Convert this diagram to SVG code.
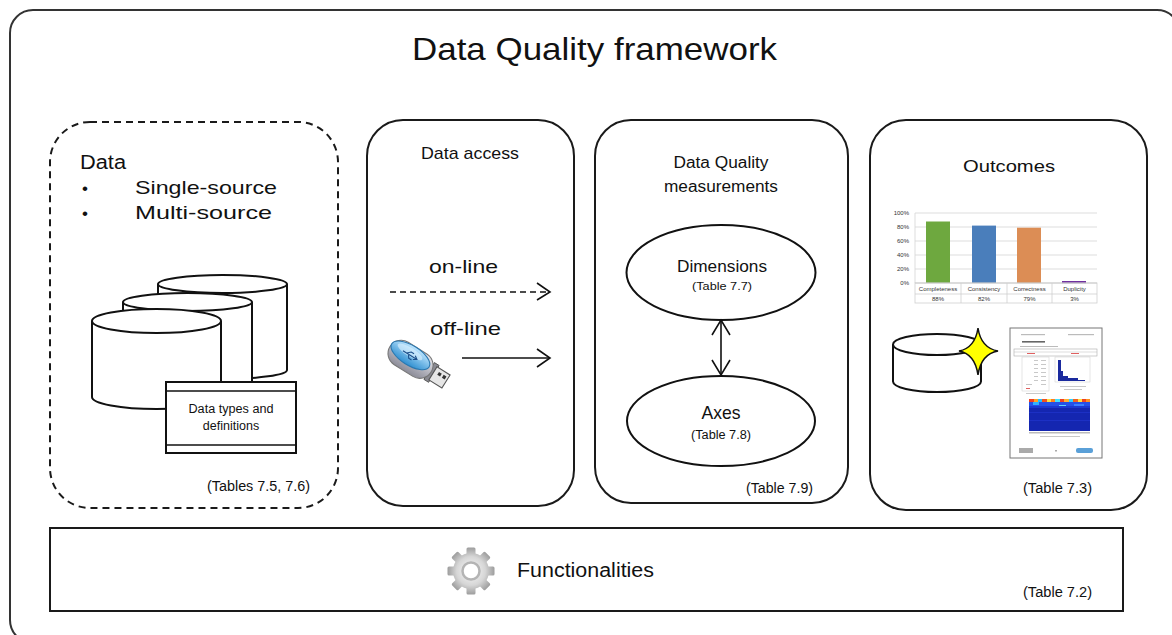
<svg xmlns="http://www.w3.org/2000/svg" width="1172" height="635" viewBox="0 0 1172 635">
  <style>
    .frame { fill: #fff; stroke: #333; stroke-width: 2; }
    .box { fill: #fff; stroke: #1a1a1a; stroke-width: 2; }
    .dash { fill: #fff; stroke: #1a1a1a; stroke-width: 2; stroke-dasharray: 7 5; }
    .shape { fill: #fff; stroke: #111; stroke-width: 2; }
    .line { fill: none; stroke: #111; stroke-width: 1.6; }
    .t { font-family: "Liberation Sans", Arial, sans-serif; fill: #111; }
    .sm { font-family: "Liberation Sans", Arial, sans-serif; fill: #333; }
    .grid { stroke: #d4d4d4; stroke-width: 0.8; }
    .cell { fill: none; stroke: #cfcfcf; stroke-width: 0.8; }
    .tiny { fill: #bbb; }
  </style>
  <defs>
    <radialGradient id="gearGrad" gradientUnits="userSpaceOnUse" cx="0" cy="0" r="24">
      <stop offset="0" stop-color="#fafafa"/>
      <stop offset="0.6" stop-color="#d6d6d6"/>
      <stop offset="1" stop-color="#9a9a9a"/>
    </radialGradient>
    <linearGradient id="usbGray" x1="0" y1="0" x2="0" y2="1">
      <stop offset="0" stop-color="#e8e8ee"/>
      <stop offset="1" stop-color="#8c8c98"/>
    </linearGradient>
    <linearGradient id="usbBlue" x1="0" y1="0" x2="0" y2="1">
      <stop offset="0" stop-color="#bfe6ff"/>
      <stop offset="1" stop-color="#2f8fd0"/>
    </linearGradient>
    <rect id="tooth" x="-4.5" y="-23.5" width="9" height="10" rx="1.5"/>
  </defs>

  <!-- outer frame and title -->
  <rect class="frame" x="10" y="10" width="1170" height="633" rx="23"/>
  <text class="t" x="412" y="60" font-size="32" textLength="365" lengthAdjust="spacingAndGlyphs">Data Quality framework</text>

  <!-- Data -->
  <g id="node-data">
    <rect class="dash" x="50" y="122" width="288" height="386" rx="40"/>
    <text class="t" x="80" y="169" font-size="20" textLength="46" lengthAdjust="spacingAndGlyphs">Data</text>
    <text class="t" x="82" y="194" font-size="17">•</text>
    <text class="t" x="82" y="219" font-size="17">•</text>
    <text class="t" x="135" y="194" font-size="18.5" textLength="142" lengthAdjust="spacingAndGlyphs">Single-source</text>
    <text class="t" x="135" y="219" font-size="18.5" textLength="137" lengthAdjust="spacingAndGlyphs">Multi-source</text>
    <!-- stacked databases -->
    <path class="shape" d="M158,284 V370 A64.5,9 0 0 0 287,370 V284"/>
    <ellipse class="shape" cx="222.5" cy="284" rx="64.5" ry="9"/>
    <path class="shape" d="M123,302 V386 A64.5,9 0 0 0 252,386 V302"/>
    <ellipse class="shape" cx="187.5" cy="302" rx="64.5" ry="9"/>
    <path class="shape" d="M92,321 V397 A64.5,12 0 0 0 221,397 V321"/>
    <ellipse class="shape" cx="156.5" cy="321" rx="64.5" ry="12"/>
    <!-- data dictionary -->
    <rect class="shape" x="166" y="382" width="130" height="71"/>
    <line class="line" x1="166" y1="391" x2="296" y2="391"/>
    <line class="line" x1="166" y1="445" x2="296" y2="445"/>
    <text class="t" x="231" y="413" font-size="12.5" text-anchor="middle" textLength="85" lengthAdjust="spacingAndGlyphs">Data types and</text>
    <text class="t" x="231" y="430" font-size="12.5" text-anchor="middle">definitions</text>
    <text class="t" x="207" y="491" font-size="14" textLength="103" lengthAdjust="spacingAndGlyphs">(Tables 7.5, 7.6)</text>
  </g>

  <!-- Data access -->
  <g id="node-access">
    <rect class="box" x="367" y="120" width="207" height="386" rx="36"/>
    <text class="t" x="421" y="159" font-size="17" textLength="98" lengthAdjust="spacingAndGlyphs">Data access</text>
    <text class="t" x="429" y="273" font-size="19" textLength="69" lengthAdjust="spacingAndGlyphs">on-line</text>
    <text class="t" x="430" y="335" font-size="19" textLength="71" lengthAdjust="spacingAndGlyphs">off-line</text>
    <!-- USB stick -->
    <g transform="translate(418,364) rotate(32) scale(1.1)">
      <rect x="12" y="-9" width="5" height="18" fill="#8a8a92" stroke="#555" stroke-width="0.8"/>
      <rect x="16" y="-7" width="14" height="14" fill="#e6e6e6" stroke="#555" stroke-width="1"/>
      <rect x="20" y="-4" width="3" height="3" fill="#333"/>
      <rect x="25" y="-4" width="3" height="3" fill="#333"/>
      <rect x="-30" y="-12" width="44" height="24" rx="12" fill="url(#usbGray)" stroke="#777" stroke-width="1"/>
      <ellipse cx="-10" cy="-3" rx="20" ry="9" fill="url(#usbBlue)" stroke="#2a78b0" stroke-width="1"/>
      <ellipse cx="-12" cy="-5.5" rx="13" ry="4" fill="#dff3ff" opacity="0.6"/>
      <path d="M-18,-3 H-3 M-6,-5 L-3,-3 L-6,-1 M-14,-3 L-11,-6 H-8 M-12,-3 L-10,0 H-7" fill="none" stroke="#1b4f8a" stroke-width="1"/>
    </g>
  </g>

  <!-- Data Quality measurements -->
  <g id="node-dq">
    <rect class="box" x="595" y="120" width="253" height="383" rx="36"/>
    <text class="t" x="721" y="168" font-size="16" text-anchor="middle" textLength="95" lengthAdjust="spacingAndGlyphs">Data Quality</text>
    <text class="t" x="721" y="192" font-size="16" text-anchor="middle" textLength="114" lengthAdjust="spacingAndGlyphs">measurements</text>
    <text class="t" x="746" y="493" font-size="14" textLength="67" lengthAdjust="spacingAndGlyphs">(Table 7.9)</text>
  </g>
  <g id="node-dimensions">
    <ellipse class="shape" cx="721" cy="272.5" rx="94.5" ry="47.5"/>
    <text class="t" x="722" y="272" font-size="16" text-anchor="middle" textLength="90" lengthAdjust="spacingAndGlyphs">Dimensions</text>
    <text class="t" x="722" y="290" font-size="11.5" text-anchor="middle" textLength="60" lengthAdjust="spacingAndGlyphs">(Table 7.7)</text>
  </g>
  <g id="node-axes">
    <ellipse class="shape" cx="721" cy="421" rx="94" ry="45"/>
    <text class="t" x="721" y="419" font-size="19" text-anchor="middle" textLength="39" lengthAdjust="spacingAndGlyphs">Axes</text>
    <text class="t" x="721" y="439" font-size="12" text-anchor="middle" textLength="60" lengthAdjust="spacingAndGlyphs">(Table 7.8)</text>
  </g>

  <!-- Outcomes -->
  <g id="node-outcomes">
    <rect class="box" x="870" y="120" width="277" height="390" rx="36"/>
    <text class="t" x="1009" y="172" font-size="17" text-anchor="middle" textLength="92" lengthAdjust="spacingAndGlyphs">Outcomes</text>
    <!-- bar chart -->
    <g id="chart">
      <line class="grid" x1="915" y1="213" x2="1097" y2="213"/>
      <line class="grid" x1="915" y1="227" x2="1097" y2="227"/>
      <line class="grid" x1="915" y1="241" x2="1097" y2="241"/>
      <line class="grid" x1="915" y1="255" x2="1097" y2="255"/>
      <line class="grid" x1="915" y1="269" x2="1097" y2="269"/>
      <line class="grid" x1="915" y1="213" x2="915" y2="283"/>
      <rect x="926" y="221.5" width="24" height="61.5" fill="#6ea83f"/>
      <rect x="972" y="225.6" width="24" height="57.4" fill="#4a7ebb"/>
      <rect x="1017" y="227.7" width="24" height="55.3" fill="#dc8d55"/>
      <rect x="1062" y="281" width="24" height="2.2" fill="#7030a0"/>
      <line x1="915" y1="283" x2="1097" y2="283" stroke="#bbb" stroke-width="0.8"/>
      <rect class="cell" x="915" y="283" width="182" height="20"/>
      <line class="cell" x1="915" y1="294" x2="1097" y2="294"/>
      <line class="cell" x1="961" y1="283" x2="961" y2="303"/>
      <line class="cell" x1="1007" y1="283" x2="1007" y2="303"/>
      <line class="cell" x1="1052" y1="283" x2="1052" y2="303"/>
      <g class="sm" font-size="6" text-anchor="end">
        <text x="909" y="215">100%</text>
        <text x="909" y="229">80%</text>
        <text x="909" y="243">60%</text>
        <text x="909" y="257">40%</text>
        <text x="909" y="271">20%</text>
        <text x="909" y="285">0%</text>
      </g>
      <g class="sm" font-size="6" text-anchor="middle">
        <text x="938" y="291">Completeness</text>
        <text x="984" y="291">Consistency</text>
        <text x="1029.5" y="291">Correctness</text>
        <text x="1074.5" y="291">Duplicity</text>
        <text x="938" y="300.5">88%</text>
        <text x="984" y="300.5">82%</text>
        <text x="1029.5" y="300.5">79%</text>
        <text x="1074.5" y="300.5">3%</text>
      </g>
    </g>
    <!-- improved database -->
    <path class="shape" d="M893,344.5 V381.5 A44,10.5 0 0 0 981,381.5 V344.5"/>
    <ellipse class="shape" cx="937" cy="344.5" rx="44" ry="10.5"/>
    <path d="M978,328 Q981,348 998,351 Q981,354 978,375 Q975,354 959,351 Q975,348 978,328 Z" fill="#ffff00" stroke="#111" stroke-width="1.5"/>
    <!-- report page -->
    <g id="report">
      <rect x="1010" y="328" width="92" height="130" fill="#fff" stroke="#777" stroke-width="1"/>
      <rect class="tiny" x="1021" y="334" width="24" height="1.2"/>
      <rect class="tiny" x="1068" y="334" width="26" height="1.2"/>
      <rect x="1022" y="341" width="23" height="1.6" fill="#666"/>
      <rect class="tiny" x="1020" y="346" width="38" height="1"/>
      <rect x="1014" y="349" width="83" height="7" fill="none" stroke="#aaa" stroke-width="0.6"/>
      <line x1="1014" y1="352" x2="1097" y2="352" stroke="#bbb" stroke-width="0.5"/>
      <rect x="1027" y="353" width="8" height="1" fill="#e06060"/>
      <rect x="1071" y="353" width="8" height="1" fill="#e06060"/>
      <rect x="1022" y="357" width="27" height="34" fill="none" stroke="#ccc" stroke-width="0.5"/>
      <g fill="#bbb">
        <rect x="1034" y="360" width="4" height="0.8"/><rect x="1041" y="360" width="5" height="0.8"/>
        <rect x="1034" y="364" width="4" height="0.8"/><rect x="1041" y="364" width="5" height="0.8"/>
        <rect x="1034" y="368" width="4" height="0.8"/><rect x="1041" y="368" width="5" height="0.8"/>
        <rect x="1034" y="372" width="4" height="0.8"/><rect x="1041" y="372" width="5" height="0.8"/>
        <rect x="1034" y="376" width="4" height="0.8"/><rect x="1041" y="376" width="5" height="0.8"/>
        <rect x="1034" y="380" width="4" height="0.8"/><rect x="1041" y="380" width="5" height="0.8"/>
        <rect x="1026" y="384" width="6" height="0.8"/><rect x="1041" y="384" width="5" height="0.8"/>
      </g>
      <rect x="1026" y="388" width="4" height="1" fill="#e06060"/>
      <rect class="tiny" x="1026" y="393" width="20" height="0.8"/>
      <rect x="1055" y="357" width="35" height="25" fill="none" stroke="#ccc" stroke-width="0.5"/>
      <path d="M1058,381 V360 H1061 V371 H1063 V376 H1068 V378 H1078 V380 H1085 V381 Z" fill="#1a2a9e"/>
      <rect class="tiny" x="1060" y="386" width="26" height="0.8"/>
      <rect class="tiny" x="1064" y="389" width="18" height="0.8"/>
      <!-- heat map -->
      <rect x="1029" y="399" width="61" height="32" fill="#1426b0"/>
      <rect x="1029" y="399" width="5" height="3" fill="#f04020"/>
      <rect x="1034" y="399" width="4" height="3" fill="#ffa020"/>
      <rect x="1038" y="399" width="4" height="3" fill="#20c0ff"/>
      <rect x="1042" y="399" width="5" height="3" fill="#f05020"/>
      <rect x="1047" y="399" width="4" height="3" fill="#ffe040"/>
      <rect x="1051" y="399" width="4" height="3" fill="#ff8020"/>
      <rect x="1055" y="399" width="5" height="3" fill="#40e0ff"/>
      <rect x="1060" y="399" width="4" height="3" fill="#f04020"/>
      <rect x="1064" y="399" width="5" height="3" fill="#ffb030"/>
      <rect x="1069" y="399" width="4" height="3" fill="#30d0ff"/>
      <rect x="1073" y="399" width="5" height="3" fill="#f06020"/>
      <rect x="1078" y="399" width="4" height="3" fill="#ffe040"/>
      <rect x="1082" y="399" width="4" height="3" fill="#f04020"/>
      <rect x="1086" y="399" width="4" height="3" fill="#ff9020"/>
      <rect x="1029" y="402" width="61" height="4" fill="#2450e8"/>
      <rect x="1033" y="402" width="6" height="3" fill="#30b0ff"/>
      <rect x="1059" y="405" width="7" height="2" fill="#60d0ff"/>
      <rect x="1074" y="404" width="10" height="2" fill="#3a80ff"/>
      <rect x="1029" y="406" width="61" height="2" fill="#1a38d0"/>
      <rect x="1029" y="412" width="61" height="1" fill="#1c30c4"/>
      <rect x="1029" y="420" width="61" height="1" fill="#1c30c4"/>
      <rect class="tiny" x="1029" y="432" width="61" height="1.5"/>
      <rect class="tiny" x="1040" y="436" width="40" height="0.8"/>
      <rect x="1019" y="448" width="14" height="5" fill="#aaa"/>
      <rect x="1055" y="450" width="2" height="1.5" fill="#aaa"/>
      <rect x="1076" y="448" width="17" height="5" rx="2" fill="#5aa0d8"/>
    </g>
    <text class="t" x="1023" y="493" font-size="14" textLength="69" lengthAdjust="spacingAndGlyphs">(Table 7.3)</text>
  </g>

  <!-- Functionalities -->
  <g id="node-functionalities">
    <rect class="box" x="50" y="528" width="1073" height="83"/>
    <g transform="translate(471,571)" fill="url(#gearGrad)">
      <use href="#tooth"/>
      <use href="#tooth" transform="rotate(45)"/>
      <use href="#tooth" transform="rotate(90)"/>
      <use href="#tooth" transform="rotate(135)"/>
      <use href="#tooth" transform="rotate(180)"/>
      <use href="#tooth" transform="rotate(225)"/>
      <use href="#tooth" transform="rotate(270)"/>
      <use href="#tooth" transform="rotate(315)"/>
      <circle r="18"/>
      <circle r="8.5" fill="#fff" stroke="#b4b4b4" stroke-width="2.5"/>
    </g>
    <text class="t" x="517" y="577" font-size="20" textLength="137" lengthAdjust="spacingAndGlyphs">Functionalities</text>
    <text class="t" x="1023" y="597" font-size="14" textLength="69" lengthAdjust="spacingAndGlyphs">(Table 7.2)</text>
  </g>

  <!-- connectors -->
  <g id="connectors" class="line">
    <line x1="390" y1="292" x2="549" y2="292" stroke-dasharray="6 4"/>
    <polyline points="537,283 550,292 537,300"/>
    <line x1="462" y1="358" x2="549" y2="358"/>
    <polyline points="537,349 550,358 537,367"/>
    <line x1="721" y1="321" x2="721" y2="375"/>
    <polyline points="712,335 721,320 730,335"/>
    <polyline points="712,360 721,375 730,360"/>
  </g>
</svg>
